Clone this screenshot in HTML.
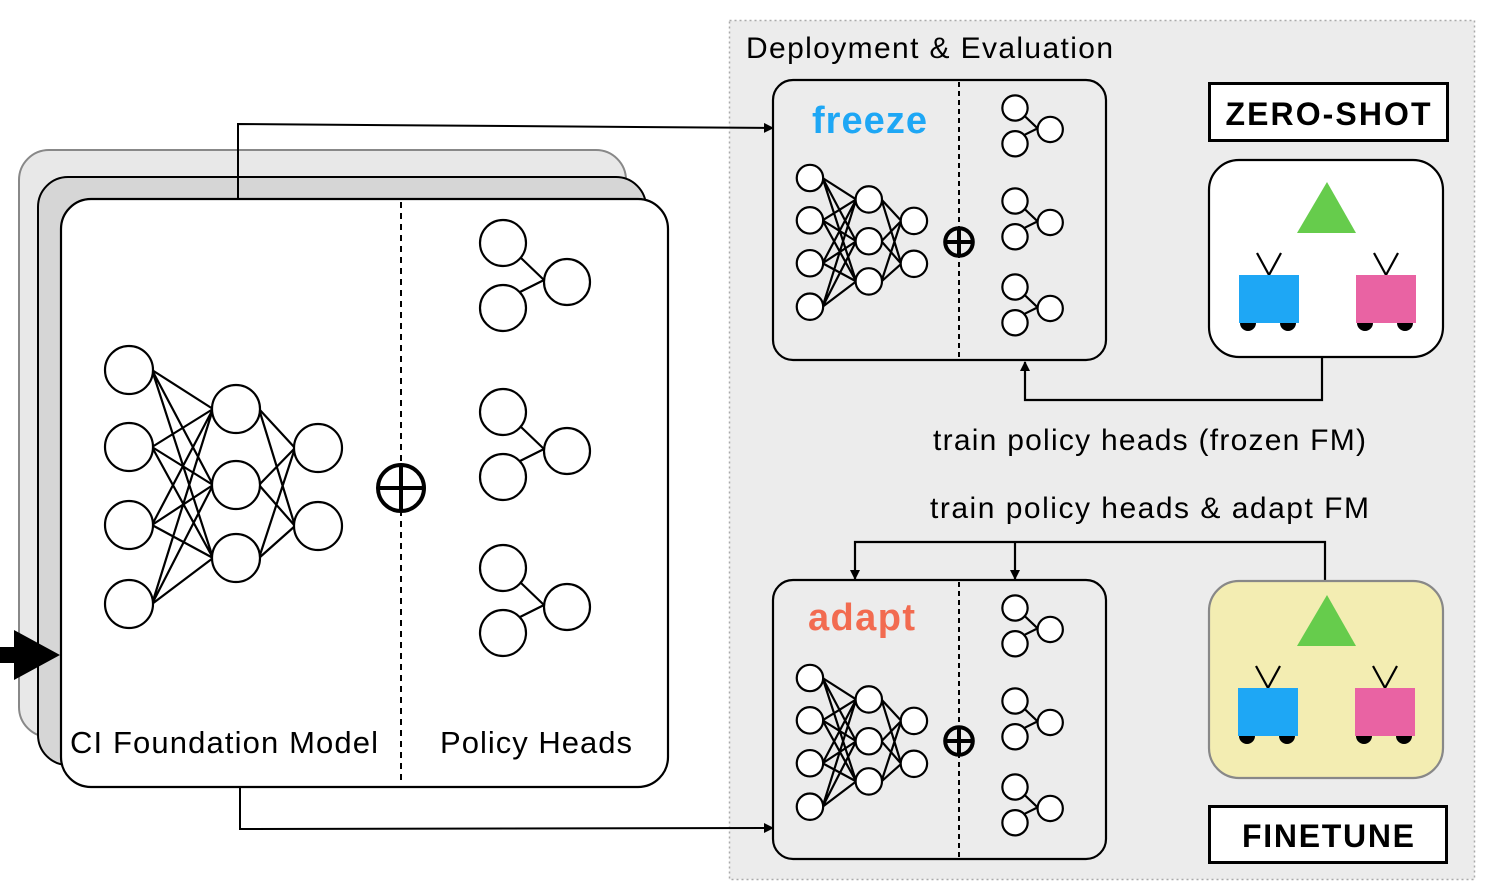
<!DOCTYPE html>
<html><head><meta charset="utf-8"><style>body{margin:0;background:#fff}svg{display:block}text{font-family:"Liberation Sans",sans-serif}#net *,#head *,#op *{vector-effect:non-scaling-stroke}</style></head><body>
<svg width="1498" height="885" viewBox="0 0 1498 885" xmlns="http://www.w3.org/2000/svg">
<defs>
<marker id="ah" markerWidth="10" markerHeight="10" refX="9" refY="5" orient="auto" markerUnits="userSpaceOnUse"><path d="M0,0 L10,5 L0,10 Z" fill="#000"/></marker>
<g id="net" stroke="#000" stroke-width="2.2" fill="#fff">
<path fill="none" d="M152,370L213,409M152,370L213,485M152,370L213,558M152,447L213,409M152,447L213,485M152,447L213,558M152,525L213,409M152,525L213,485M152,525L213,558M152,604L213,409M152,604L213,485M152,604L213,558M259,409L295,448M259,409L295,526M259,485L295,448M259,485L295,526M259,558L295,448M259,558L295,526"/>
<circle cx="129" cy="370" r="24"/><circle cx="129" cy="447" r="24"/><circle cx="129" cy="525" r="24"/><circle cx="129" cy="604" r="24"/>
<circle cx="236" cy="409" r="24"/><circle cx="236" cy="485" r="24"/><circle cx="236" cy="558" r="24"/>
<circle cx="318" cy="448" r="24"/><circle cx="318" cy="526" r="24"/>
</g>
<g id="op" stroke="#000" stroke-width="4" fill="none"><circle cx="0" cy="0" r="23"/><path d="M-23,0H23M0,-23V23"/></g>
<g id="head" stroke="#000" stroke-width="2.2" fill="#fff"><path d="M18,15L41,37M17,49L41,37" fill="none"/><circle cx="0" cy="0" r="23"/><circle cx="0" cy="65" r="23"/><circle cx="64" cy="39" r="23"/></g>
<g id="robot"><path d="M-12,-22L0,0L12,-22" stroke="#000" stroke-width="2.2" fill="none"/><rect x="-30" y="0" width="60" height="48" fill="#1ea7f5"/><path d="M-29,48a8,8 0 0 0 16,0ZM11,48a8,8 0 0 0 16,0Z" fill="#000"/></g>
</defs>

<rect x="729.5" y="20.5" width="745" height="859" fill="#ececec" stroke="#aaa" stroke-width="1.5" stroke-dasharray="2,3"/>
<text x="746" y="58" font-size="30" textLength="367">Deployment &amp; Evaluation</text>

<rect x="19" y="150" width="607" height="587" rx="30" fill="#e8e8e8" stroke="#888" stroke-width="2"/>
<rect x="38" y="177" width="608" height="588" rx="30" fill="#d6d6d6" stroke="#000" stroke-width="2"/>
<rect x="61" y="199" width="607" height="588" rx="30" fill="#fff" stroke="#000" stroke-width="2.2"/>
<line x1="401" y1="202" x2="401" y2="780" stroke="#000" stroke-width="2" stroke-dasharray="6,5"/>
<use href="#net"/>
<use href="#op" x="401" y="488"/>
<use href="#head" x="503" y="243"/>
<use href="#head" x="503" y="412"/>
<use href="#head" x="503" y="568"/>
<text x="70" y="753" font-size="31" textLength="308">CI Foundation Model</text>
<text x="440" y="753" font-size="31" textLength="192">Policy Heads</text>

<path d="M0,647H14V630L60,655L14,680V663H0Z" fill="#000"/>

<path d="M238,199V124L773,128" fill="none" stroke="#000" stroke-width="2" marker-end="url(#ah)"/>
<path d="M240,788V829L773,828" fill="none" stroke="#000" stroke-width="2" marker-end="url(#ah)"/>
<path d="M1322,357V400H1025V362" fill="none" stroke="#000" stroke-width="2.2" marker-end="url(#ah)"/>
<path d="M1325,580V542H855V579" fill="none" stroke="#000" stroke-width="2.2" marker-end="url(#ah)"/>
<path d="M1015,542V579" fill="none" stroke="#000" stroke-width="2.2" marker-end="url(#ah)"/>

<rect x="773" y="80" width="333" height="280" rx="20" fill="#ececec" stroke="#000" stroke-width="2.2"/>
<line x1="959" y1="82" x2="959" y2="358" stroke="#000" stroke-width="2" stroke-dasharray="5,4"/>
<g transform="translate(739,-25.5) scale(0.55)"><use href="#net"/></g>
<g transform="translate(959,242) scale(0.6)"><use href="#op"/></g>
<g transform="translate(1015,108) scale(0.55)"><use href="#head"/></g>
<g transform="translate(1015,201) scale(0.55)"><use href="#head"/></g>
<g transform="translate(1015,287) scale(0.55)"><use href="#head"/></g>
<text x="812" y="133" font-size="38" font-weight="bold" fill="#1ea7f5" textLength="115">freeze</text>

<rect x="773" y="580" width="333" height="279" rx="20" fill="#ececec" stroke="#000" stroke-width="2.2"/>
<line x1="959" y1="582" x2="959" y2="857" stroke="#000" stroke-width="2" stroke-dasharray="5,4"/>
<g transform="translate(739,474.5) scale(0.55)"><use href="#net"/></g>
<g transform="translate(959,741) scale(0.6)"><use href="#op"/></g>
<g transform="translate(1015,608) scale(0.55)"><use href="#head"/></g>
<g transform="translate(1015,701) scale(0.55)"><use href="#head"/></g>
<g transform="translate(1015,787) scale(0.55)"><use href="#head"/></g>
<text x="808" y="630" font-size="38" font-weight="bold" fill="#f26b50" textLength="107">adapt</text>

<rect x="1209.5" y="83.5" width="238" height="57" fill="#fff" stroke="#000" stroke-width="3"/>
<text x="1328" y="125" font-size="32" font-weight="bold" text-anchor="middle" textLength="205">ZERO-SHOT</text>
<rect x="1209" y="160" width="234" height="197" rx="30" fill="#fff" stroke="#000" stroke-width="2.2"/>
<path d="M1327,182L1297,233H1356Z" fill="#66cc4c"/>
<use href="#robot" x="1269" y="275"/>
<g transform="translate(1386,275)"><path d="M-12,-22L0,0L12,-22" stroke="#000" stroke-width="2.2" fill="none"/><rect x="-30" y="0" width="60" height="48" fill="#e963a3"/><path d="M-29,48a8,8 0 0 0 16,0ZM11,48a8,8 0 0 0 16,0Z" fill="#000"/></g>

<rect x="1209" y="581" width="234" height="197" rx="30" fill="#f3edb2" stroke="#888" stroke-width="2.2"/>
<path d="M1327,595L1297,646H1356Z" fill="#66cc4c"/>
<use href="#robot" x="1268" y="688"/>
<g transform="translate(1385,688)"><path d="M-12,-22L0,0L12,-22" stroke="#000" stroke-width="2.2" fill="none"/><rect x="-30" y="0" width="60" height="48" fill="#e963a3"/><path d="M-29,48a8,8 0 0 0 16,0ZM11,48a8,8 0 0 0 16,0Z" fill="#000"/></g>
<rect x="1209.5" y="806.5" width="237" height="56" fill="#fff" stroke="#000" stroke-width="3"/>
<text x="1328" y="847" font-size="32" font-weight="bold" text-anchor="middle" textLength="172">FINETUNE</text>

<text x="933" y="450" font-size="30" textLength="433">train policy heads (frozen FM)</text>
<text x="930" y="518" font-size="30" textLength="439">train policy heads &amp; adapt FM</text>
</svg>
</body></html>
